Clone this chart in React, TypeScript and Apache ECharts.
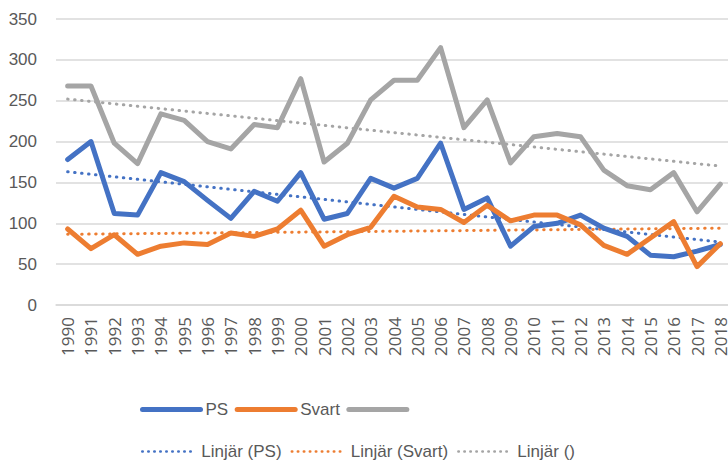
import React, { useEffect, useRef } from "react";
import * as echarts from "echarts";

const years = [
  "1990", "1991", "1992", "1993", "1994", "1995", "1996", "1997", "1998", "1999",
  "2000", "2001", "2002", "2003", "2004", "2005", "2006", "2007", "2008", "2009",
  "2010", "2011", "2012", "2013", "2014", "2015", "2016", "2017", "2018",
];
const psValues = [
  178, 200, 112, 110, 162, 151, 128, 106, 139, 127,
  162, 105, 112, 155, 143, 155, 198, 117, 131, 72,
  96, 100, 110, 94, 84, 61, 59, 66, 74,
];
const svartValues = [
  93, 69, 86, 62, 72, 76, 74, 88, 84, 93,
  116, 72, 86, 95, 133, 120, 117, 101, 122, 103,
  110, 110, 98, 73, 62, 82, 102, 47, 75,
];
const grayValues = [
  268, 268, 198, 173, 234, 226, 200, 191, 221, 217,
  277, 175, 198, 251, 275, 275, 315, 217, 251, 174,
  206, 210, 206, 165, 146, 141, 162, 114, 148,
];
// trend line end points (first year, last year)
const psTrend = [163, 77];
const svartTrend = [86.5, 94];
const grayTrend = [252, 170];
const yTicks = { min: 0, max: 350, interval: 50 };

const BLUE = "#4472C4";
const ORANGE = "#ED7D31";
const GRAY = "#A5A5A5";
const TEXT = "#595959";
const LEG_FONT = "'Liberation Sans', Arial, sans-serif";

const ends = (v: number[]) => [
  [years[0], v[0]],
  [years[years.length - 1], v[1]],
];

export default function App() {
  const ref = useRef<HTMLDivElement>(null);
  useEffect(() => {
    if (!ref.current) return;
    const chart = echarts.init(ref.current, null, { renderer: "svg" });
    const solid = (name: string, color: string, data: number[]) => ({
      name,
      type: "line",
      data,
      symbol: "none",
      color,
      lineStyle: { color, width: 5, cap: "round", join: "round" },
      z: 3,
    });
    const dotted = (name: string, color: string, v: number[]) => ({
      name,
      type: "line",
      data: ends(v),
      symbol: "none",
      color,
      lineStyle: { color, width: 3, type: [0.5, 6.5], cap: "round" },
      z: 2,
    });
    chart.setOption({
      animation: false,
      backgroundColor: "#ffffff",
      grid: {
        left: 56,
        right: -4,
        top: 19,
        bottom: 158,
        containLabel: false,
        outerBoundsMode: "none",
      },
      xAxis: {
        type: "category",
        data: years,
        boundaryGap: true,
        axisLine: { lineStyle: { color: "#D9D9D9", width: 1.5 } },
        axisTick: { show: false },
        axisLabel: {
          interval: 0,
          rotate: 90,
          margin: 12,
          color: TEXT,
          fontSize: 17,
          fontFamily: "'Open Sans', sans-serif",
        },
      },
      yAxis: {
        type: "value",
        min: yTicks.min,
        max: yTicks.max,
        interval: yTicks.interval,
        axisLine: { show: false },
        axisTick: { show: false },
        splitLine: { lineStyle: { color: "#D9D9D9", width: 1.5 } },
        axisLabel: {
          color: TEXT,
          fontSize: 17,
          margin: 19,
          fontFamily: LEG_FONT,
        },
      },
      legend: [
        {
          data: ["PS", "Svart", " "],
          left: 135,
          top: 396,
          orient: "horizontal",
          itemWidth: 58,
          itemHeight: 14,
          itemGap: 6.5,
          itemTextGap: 4,
          itemStyle: { opacity: 0 },
          lineStyle: { width: 5, cap: "round" },
          textStyle: { color: TEXT, fontSize: 17, fontFamily: LEG_FONT, width: 96 },
        },
        {
          data: ["Linjär (PS)", "Linjär (Svart)", "Linjär ()"],
          left: 136,
          top: 438,
          orient: "horizontal",
          itemWidth: 54,
          itemHeight: 14,
          itemGap: 9,
          itemTextGap: 5,
          itemStyle: { opacity: 0 },
          lineStyle: { width: 2.5, cap: "round", type: [0.5, 5.5] },
          textStyle: { color: TEXT, fontSize: 17, fontFamily: LEG_FONT, width: 96 },
        },
      ],
      series: [
        solid("PS", BLUE, psValues),
        solid("Svart", ORANGE, svartValues),
        solid(" ", GRAY, grayValues),
        dotted("Linjär (PS)", BLUE, psTrend),
        dotted("Linjär (Svart)", ORANGE, svartTrend),
        dotted("Linjär ()", GRAY, grayTrend),
      ],
    });
    return () => chart.dispose();
  }, []);
  return (
    <div
      ref={ref}
      style={{ position: "fixed", left: 0, top: 0, width: 728, height: 463 }}
    />
  );
}
